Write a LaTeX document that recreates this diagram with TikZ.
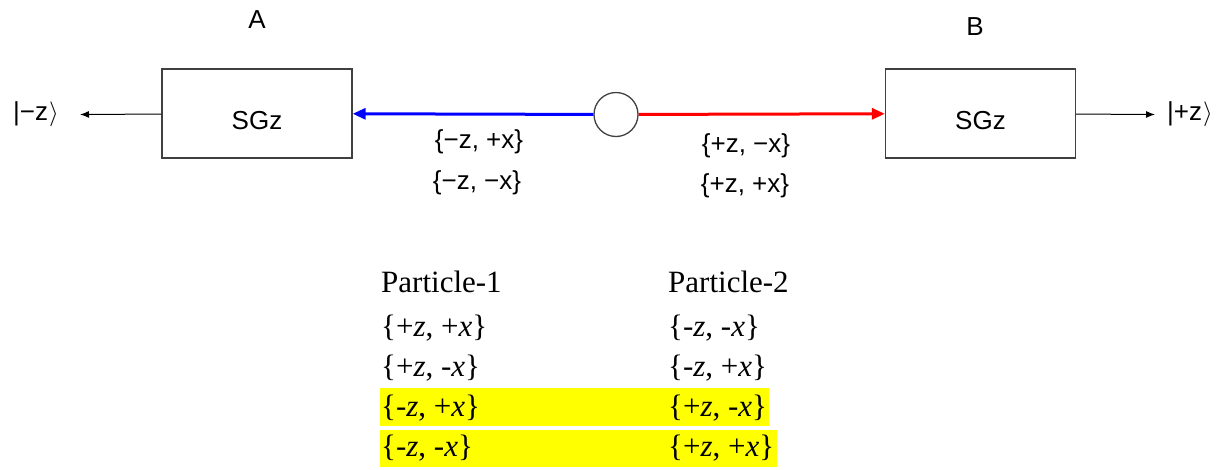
\documentclass[tikz,border=0pt]{standalone}
\definecolor{FrameGray}{HTML}{404040}
\definecolor{MarkYellow}{HTML}{FFFF00}
\usepackage{fontspec}
\setmainfont{Liberation Serif}
\setsansfont{Liberation Sans}
\usepackage{tikz}
\usetikzlibrary{arrows.meta, positioning}

\newcommand{\spinpair}[2]{\{#1\textit{z}, #2\textit{x}\}}
\newcommand{\ket}[1]{|#1z\kern1pt$\rangle$}

\tikzset{
  sgbox/.style={draw=FrameGray, line width=1.3pt, minimum width=190pt, minimum height=89pt, inner sep=0pt, text height=31pt, text depth=0pt},
  diag/.style={font=\sffamily\fontsize{26}{30}\selectfont, inner sep=0pt},
  table/.style={font=\rmfamily\fontsize{31}{36}\selectfont, anchor=base west, inner sep=0pt},
  beam/.style={line width=3pt, -{Triangle[length=13pt, width=11pt]}},
  outarrow/.style={draw=black, line width=1pt, -{Latex[length=9pt, width=7pt]}}
}

\begin{document}
\begin{tikzpicture}[x=1pt, y=-1pt]
  \useasboundingbox (0,0) rectangle (1223,469);

  % apparatus
  \node[sgbox, diag] (sgA) at (257,113.5) {SGz};
  \node[sgbox, diag] (sgB) at (980.5,113.5) {SGz};
  \node[diag] (labA) at (257,20) {A};
  \node[diag] (labB) at (975,27) {B};
  \node[draw=FrameGray, line width=1.3pt, circle, minimum size=44pt, inner sep=0pt] (src) at (616,114.5) {};

  \node[diag] (ketA) at (36,114.5) {\ket{−}};
  \node[diag] (ketB) at (1190,114.5) {\ket{+}};
  \coordinate (outA) at (80,114.5);
  \coordinate (outB) at (1155,114.5);

  \draw[beam, blue] (src) -- (sgA);
  \draw[beam, red] (src) -- (sgB);
  \draw[outarrow] (sgA) -- (outA);
  \draw[outarrow] (sgB) -- (outB);

  \node[diag] (blue1) at (479,142) {\{−z, +x\}};
  \node[diag] (blue2) at (477,183) {\{−z, −x\}};
  \node[diag] (red1) at (746,146) {\{+z, −x\}};
  \node[diag] (red2) at (745,186) {\{+z, +x\}};

  % table of outcomes
  \fill[MarkYellow] (380,388) rectangle (769,426);
  \fill[MarkYellow] (380,430) rectangle (777,467);
  \node[table] (head1) at (381,292) {Particle-1};
  \node[table] (head2) at (668,292) {Particle-2};
  \node[table] (p1a) at (381,336) {\spinpair{+}{+}};
  \node[table] (p2a) at (668,336) {\spinpair{-}{-}};
  \node[table] (p1b) at (381,376) {\spinpair{+}{-}};
  \node[table] (p2b) at (668,376) {\spinpair{-}{+}};
  \node[table] (p1c) at (381,416) {\spinpair{-}{+}};
  \node[table] (p2c) at (668,416) {\spinpair{+}{-}};
  \node[table] (p1d) at (381,456) {\spinpair{-}{-}};
  \node[table] (p2d) at (668,456) {\spinpair{+}{+}};
\end{tikzpicture}
\end{document}
